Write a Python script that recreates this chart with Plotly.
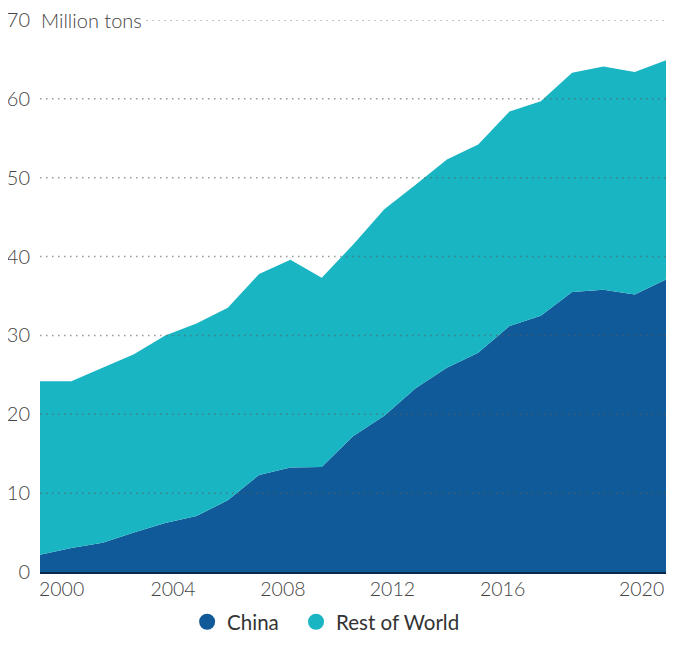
import plotly.graph_objects as go

years = list(range(2000, 2021))
china = [2.2, 3.05, 3.7, 5.0, 6.2, 7.1, 9.1, 12.3, 13.25, 13.3, 17.2, 19.8, 23.3, 25.9,
         27.8, 31.2, 32.5, 35.5, 35.8, 35.2, 37.1]
rest_of_world = [22.0, 21.15, 22.2, 22.6, 23.8, 24.4, 24.4, 25.5, 26.35, 24.0, 24.3, 26.2,
                 25.8, 26.4, 26.4, 27.2, 27.2, 27.8, 28.3, 28.2, 27.8]
y_ticks = [0, 10, 20, 30, 40, 50, 60, 70]
y_tick_text = ["0", "10", "20", "30", "40", "50", "60", "70"]
y_unit = "Million tons"
x_tick_text = ["2000", "2004", "2008", "2012", "2016", "2020"]
x_tick_pos = [2000.69, 2004.25, 2007.76, 2011.26, 2014.78, 2019.22]

CHINA_C = "#105a9a"
ROW_C = "#1ab5c3"
FONT = "Lato"
TXT = "#444444"

fig = go.Figure()
fig.add_trace(go.Scatter(x=years, y=china, stackgroup="s", mode="none",
                         fillcolor=CHINA_C, name="China", showlegend=False))
fig.add_trace(go.Scatter(x=years, y=rest_of_world, stackgroup="s", mode="none",
                         fillcolor=ROW_C, name="Rest of World", showlegend=False))
# legend entries with circle markers, one legend box each
for nm, c, lg in [("China", CHINA_C, "legend"), ("Rest of World", ROW_C, "legend2")]:
    fig.add_trace(go.Scatter(x=[None], y=[None], mode="markers", name=nm, legend=lg,
                             marker=dict(symbol="circle", size=16, color=c)))

shapes = []
for v in y_ticks:
    if v == 0:
        continue
    x0 = 0.17 if v == y_ticks[-1] else 0.0
    shapes.append(dict(type="line", xref="x domain", yref="y", x0=x0, x1=1.0, y0=v, y1=v,
                       layer="above",
                       line=dict(color="rgba(90,90,90,0.62)", width=1.5, dash="1.5px,4.5px")))

leg_common = dict(orientation="h", xanchor="left", y=-0.0905, yanchor="middle",
                  font=dict(family=FONT, size=20.5, color="#333333", weight=400),
                  itemclick=False, bgcolor="rgba(0,0,0,0)")

fig.update_layout(
    width=658, height=629,
    margin=dict(l=32, r=0, t=12, b=65, autoexpand=False),
    paper_bgcolor="white", plot_bgcolor="white",
    font=dict(family=FONT, size=19.5, color=TXT, weight=300),
    shapes=shapes,
    annotations=[dict(text=y_unit, xref="x domain", yref="y", x=0, y=y_ticks[-1],
                      xanchor="left", yanchor="middle", xshift=-1, showarrow=False,
                      font=dict(family=FONT, size=20, color=TXT, weight=300))],
    showlegend=True,
    legend=dict(x=0.235, **leg_common),
    legend2=dict(x=0.409, **leg_common),
    xaxis=dict(range=[2000, 2020], tickvals=x_tick_pos, automargin=False,
               ticktext=x_tick_text, showgrid=False, zeroline=False, showline=True,
               linecolor="#0b2a4a", linewidth=2, ticks="", ticklabelstandoff=-1,
               ticklabeloverflow="allow", tickfont=dict(size=19.5, color=TXT)),
    yaxis=dict(range=[0, 70], tickvals=y_ticks, ticktext=y_tick_text, showgrid=False,
               zeroline=False, showline=False, automargin=False, ticklabeloverflow="allow",
               ticks="", ticklabelstandoff=9, tickfont=dict(size=20, color=TXT)),
)

fig.write_html("out.html")
